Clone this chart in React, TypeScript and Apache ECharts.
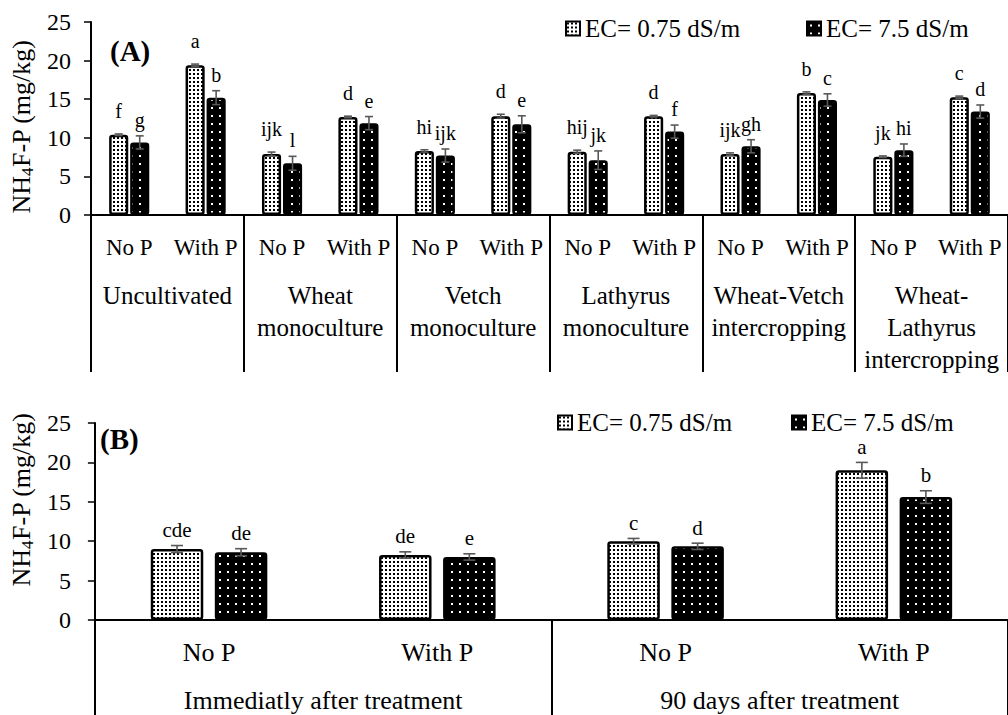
import React, { useEffect, useRef } from "react";
import * as echarts from "echarts";

const FONT = '"Liberation Serif", "Times New Roman", Times, serif';
const LOW = "EC= 0.75 dS/m";
const HIGH = "EC= 7.5 dS/m";

// ---------- Panel A data ----------
const treatmentsA = ["No P", "With P", "No P", "With P", "No P", "With P", "No P", "With P", "No P", "With P", "No P", "With P"];
const systemsA = [
  "Uncultivated",
  "Wheat\nmonoculture",
  "Vetch\nmonoculture",
  "Lathyrus\nmonoculture",
  "Wheat-Vetch\nintercropping",
  "Wheat-\nLathyrus\nintercropping",
];
const lowA = [10.4, 19.4, 7.9, 12.7, 8.3, 12.8, 8.2, 12.8, 7.9, 15.8, 7.55, 15.25];
const lowErrA = [0.1, 0.15, 0.25, 0.1, 0.15, 0.25, 0.2, 0.1, 0.15, 0.15, 0.1, 0.15];
const lowLettersA = ["f", "a", "ijk", "d", "hi", "d", "hij", "d", "ijk", "b", "jk", "c"];
const highA = [9.4, 15.2, 6.7, 11.9, 7.7, 11.75, 7.1, 10.8, 8.9, 14.9, 8.4, 13.4];
const highErrA = [0.85, 0.9, 0.9, 0.85, 0.85, 1.1, 1.2, 0.85, 0.85, 0.8, 0.8, 0.85];
const highLettersA = ["g", "b", "l", "e", "ijk", "e", "jk", "f", "gh", "c", "hi", "d"];

// ---------- Panel B data ----------
const treatmentsB = ["No P", "With P", "No P", "With P"];
const timesB = ["Immediatly after treatment", "90 days after treatment"];
const lowB = [9.0, 8.25, 10.0, 19.0];
const lowErrB = [0.45, 0.4, 0.35, 1.0];
const lowLettersB = ["cde", "de", "c", "a"];
const highB = [8.6, 8.0, 9.35, 15.6];
const highErrB = [0.45, 0.4, 0.4, 0.8];
const highLettersB = ["de", "e", "d", "b"];

const yTicks = { min: 0, max: 25, interval: 5 };

function makePattern(kind: "light" | "dark") {
  const c = document.createElement("canvas");
  const s = kind === "light" ? 4 : 8;
  c.width = s;
  c.height = s;
  const ctx = c.getContext("2d")!;
  if (kind === "light") {
    ctx.fillStyle = "#ffffff";
    ctx.fillRect(0, 0, s, s);
    ctx.fillStyle = "#000000";
    ctx.fillRect(1, 1, 2, 2);
  } else {
    ctx.fillStyle = "#000000";
    ctx.fillRect(0, 0, s, s);
    ctx.fillStyle = "#ffffff";
    ctx.fillRect(3, 3, 2, 2);
  }
  return { image: c.toDataURL(), repeat: "repeat", imageWidth: s, imageHeight: s } as any;
}

function errSeries(
  xAxisIndex: number,
  yAxisIndex: number,
  values: number[],
  errs: number[],
  letters: string[],
  side: number,
  barPct: number,
  gapPct: number,
  capHalf: number,
  gapPx: number,
  fontSize: number
) {
  return {
    type: "custom",
    xAxisIndex,
    yAxisIndex,
    z: 5,
    clip: false,
    silent: true,
    data: values.map((v, i) => [i, v]),
    encode: { x: 0, y: 1 },
    renderItem: (params: any, api: any) => {
      const i = params.dataIndex;
      const idx = api.value(0);
      const v = api.value(1);
      const e = errs[i];
      const band = api.size([1, 0])[0];
      const w = band * barPct;
      const off = (side * (w + w * gapPct)) / 2;
      const c = api.coord([idx, v]);
      const top = api.coord([idx, v + e]);
      const bot = api.coord([idx, v - e]);
      const x = c[0] + off;
      const ls = { stroke: "#595959", lineWidth: 1.6 };
      return {
        type: "group",
        children: [
          { type: "line", shape: { x1: x, y1: top[1], x2: x, y2: bot[1] }, style: ls },
          { type: "line", shape: { x1: x - capHalf, y1: top[1], x2: x + capHalf, y2: top[1] }, style: ls },
          { type: "line", shape: { x1: x - capHalf, y1: bot[1], x2: x + capHalf, y2: bot[1] }, style: ls },
          {
            type: "text",
            style: {
              text: letters[i],
              x,
              y: top[1] - gapPx,
              align: "center",
              verticalAlign: "bottom",
              textAlign: "center",
              textVerticalAlign: "bottom",
              font: `${fontSize}px ${FONT}`,
              fill: "#000",
            },
          },
        ],
      };
    },
  };
}

export default function App() {
  const ref = useRef<HTMLDivElement>(null);

  useEffect(() => {
    if (!ref.current) return;
    const chart = echarts.init(ref.current, undefined, { renderer: "svg" });
    const light = makePattern("light");
    const dark = makePattern("dark");
    const barStyleLow = { color: light, borderColor: "#000", borderWidth: 2.5, borderRadius: 2 };
    const barStyleHigh = { color: dark, borderColor: "#000", borderWidth: 2.5, borderRadius: 2 };

    const yAxisCommon = (nameGap: number, padding: number[], labelMargin: number) => ({
      type: "value",
      ...yTicks,
      name: "{n|NH}{s|4}{n|F-P (mg/kg)}",
      nameLocation: "middle",
      nameRotate: 90,
      nameGap,
      nameTextStyle: {
        padding,
        rich: {
          n: { fontSize: 26, fontFamily: FONT, color: "#000", lineHeight: 30 },
          s: { fontSize: 17, fontFamily: FONT, color: "#000", lineHeight: 20, verticalAlign: "bottom" },
        },
      },
      axisLine: { show: true, lineStyle: { color: "#000", width: 2 } },
      axisTick: { show: true, length: 7, lineStyle: { color: "#000", width: 1.5 } },
      splitLine: { show: false },
      axisLabel: { fontSize: 24, fontFamily: FONT, color: "#000", margin: labelMargin },
    });

    const legendItem = (name: string, left: number, top: number) => ({
      data: [name],
      left,
      top,
      padding: 0,
      icon: "rect",
      itemWidth: 14,
      itemHeight: 14,
      selectedMode: false,
      textStyle: { fontSize: 25, fontFamily: FONT, color: "#000", lineHeight: 24 },
    });

    const option: any = {
      animation: false,
      backgroundColor: "#fff",
      textStyle: { fontFamily: FONT },
      legend: [
        legendItem(LOW, 565, 16),
        legendItem(HIGH, 806, 16),
        legendItem(LOW, 557, 410),
        legendItem(HIGH, 791, 410),
      ],
      grid: [
        { left: 91, top: 22, width: 921, height: 193 },
        { left: 88, top: 423, width: 938, height: 200 },
      ],
      xAxis: [
        {
          type: "category",
          gridIndex: 0,
          data: treatmentsA,
          position: "bottom",
          axisLine: { show: true, lineStyle: { color: "#000", width: 2 } },
          axisTick: { show: false },
          axisLabel: { interval: 0, fontSize: 23, fontFamily: FONT, color: "#000", margin: 19, lineHeight: 26 },
        },
        {
          type: "category",
          gridIndex: 0,
          data: systemsA,
          position: "bottom",
          axisLine: { show: false },
          axisTick: { show: true, interval: 0, length: 157, lineStyle: { color: "#000", width: 2 } },
          axisLabel: { interval: 0, fontSize: 25, fontFamily: FONT, color: "#000", margin: 64, lineHeight: 32 },
        },
        {
          type: "category",
          gridIndex: 1,
          data: treatmentsB,
          position: "bottom",
          axisLine: { show: true, lineStyle: { color: "#000", width: 2 } },
          axisTick: { show: false },
          axisLabel: { interval: 0, fontSize: 26, fontFamily: FONT, color: "#000", margin: 17, lineHeight: 30 },
        },
        {
          type: "category",
          gridIndex: 1,
          data: timesB,
          position: "bottom",
          axisLine: { show: false },
          axisTick: { show: true, interval: 0, length: 100, lineStyle: { color: "#000", width: 2 } },
          axisLabel: { interval: 0, fontSize: 26, fontFamily: FONT, color: "#000", margin: 65, lineHeight: 30 },
        },
      ],
      yAxis: [
        { ...yAxisCommon(53, [0, 16, 0, 0], 20), gridIndex: 0 },
        { ...yAxisCommon(51, [0, 0, 0, 44], 24), gridIndex: 1 },
      ],
      graphic: [
        {
          type: "text",
          left: 110,
          top: 36,
          style: { text: "(A)", font: `bold 29px ${FONT}`, fill: "#000" },
        },
        {
          type: "text",
          left: 100,
          top: 424,
          style: { text: "(B)", font: `bold 29px ${FONT}`, fill: "#000" },
        },
      ],
      series: [
        {
          type: "bar",
          name: LOW,
          xAxisIndex: 0,
          yAxisIndex: 0,
          data: lowA,
          barWidth: "25%",
          barGap: "10%",
          itemStyle: barStyleLow,
        },
        {
          type: "bar",
          name: HIGH,
          xAxisIndex: 0,
          yAxisIndex: 0,
          data: highA,
          barWidth: "25%",
          barGap: "10%",
          itemStyle: barStyleHigh,
        },
        errSeries(0, 0, lowA, lowErrA, lowLettersA, -1, 0.25, 0.1, 4, 13, 20),
        errSeries(0, 0, highA, highErrA, highLettersA, 1, 0.25, 0.1, 4, 6, 20),
        {
          type: "bar",
          name: LOW,
          xAxisIndex: 2,
          yAxisIndex: 1,
          data: lowB,
          barWidth: "23%",
          barGap: "22%",
          itemStyle: barStyleLow,
        },
        {
          type: "bar",
          name: HIGH,
          xAxisIndex: 2,
          yAxisIndex: 1,
          data: highB,
          barWidth: "23%",
          barGap: "22%",
          itemStyle: barStyleHigh,
        },
        errSeries(2, 1, lowB, lowErrB, lowLettersB, -1, 0.23, 0.22, 6, 5, 21),
        errSeries(2, 1, highB, highErrB, highLettersB, 1, 0.23, 0.22, 6, 5, 21),
      ],
    };
    chart.setOption(option);
    return () => chart.dispose();
  }, []);

  return (
    <div
      ref={ref}
      style={{ position: "fixed", left: 0, top: 0, width: 1008, height: 715, background: "#fff" }}
    />
  );
}
